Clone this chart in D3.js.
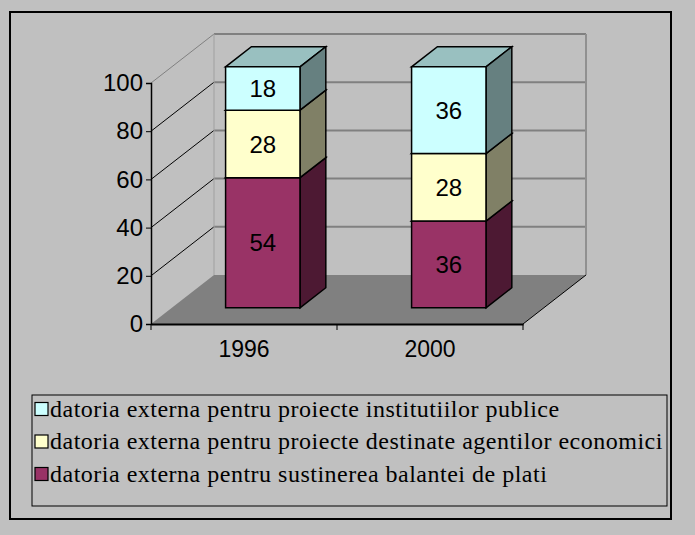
<!DOCTYPE html>
<html><head><meta charset="utf-8">
<style>
    body { margin: 0; background: #c0c0c0; }
    svg { display: block; }
</style>
<script src="https://d3js.org/d3.v7.min.js"></script>
</head>
<body>
<svg id="chart"></svg>
<script>
    // data, bottom segment first
    let years = ["1996", "2000"]
    let seriesNames = [
        "datoria externa pentru sustinerea balantei de plati",
        "datoria externa pentru proiecte destinate agentilor economici",
        "datoria externa pentru proiecte institutiilor publice"
    ]
    let balanta = [54, 36]
    let agenti = [28, 28]
    let institutii = [18, 36]
    let yTicks = [0, 20, 40, 60, 80, 100]

    let fronts = ["#993366", "#ffffcc", "#ccffff"]
    let tops = ["#732650", "#c0c099", "#99c0c0"]
    let sides = ["#4d1933", "#808066", "#668080"]

    let width = 695, height = 535
    let svg = d3.select('#chart').attr('width', width).attr('height', height)

    // chart area border
    svg.append('rect')
        .attr('x', 10).attr('y', 12).attr('width', 661).attr('height', 507)
        .attr('fill', '#c0c0c0').attr('stroke', '#000').attr('stroke-width', 2)

    // oblique 3d: depth z in [0,1] shifts right and up
    let DX = 63, DY = 49
    let xScale = d3.scaleBand().domain(years).range([151, 523])
    let yScale = d3.scaleLinear().domain([0, 100]).range([324, 83])
    let x0 = 151, x1 = 523
    function P(x, v, z) { return [x + z * DX, yScale(v) - z * DY] }
    function poly(pts) { return pts.map(p => p.join(',')).join(' ') }

    let walls = svg.append('g')
    // left wall, back wall, floor
    walls.append('polygon')
        .attr('points', poly([P(x0, 0, 0), P(x0, 0, 1), P(x0, 100, 1), P(x0, 100, 0)]))
        .attr('fill', '#c0c0c0')
    walls.append('polygon')
        .attr('points', poly([P(x0, 0, 1), P(x1, 0, 1), P(x1, 100, 1), P(x0, 100, 1)]))
        .attr('fill', '#c0c0c0')
    walls.append('polygon')
        .attr('points', poly([P(x0, 0, 0), P(x1, 0, 0), P(x1, 0, 1), P(x0, 0, 1)]))
        .attr('fill', '#808080')

    // gridlines
    yTicks.filter(v => v > 0).forEach(v => {
        let a = P(x0, v, 0), b = P(x0, v, 1), c = P(x1, v, 1)
        walls.append('line').attr('x1', a[0]).attr('y1', a[1]).attr('x2', b[0]).attr('y2', b[1])
            .attr('stroke', v == 100 ? '#808080' : '#000').attr('stroke-width', 1)
        walls.append('line').attr('x1', b[0]).attr('y1', b[1]).attr('x2', c[0]).attr('y2', c[1])
            .attr('stroke', '#808080').attr('stroke-width', 2)
    })
    // wall edges
    let edge = (p, q, col, w) => walls.append('line')
        .attr('x1', p[0]).attr('y1', p[1]).attr('x2', q[0]).attr('y2', q[1])
        .attr('stroke', col).attr('stroke-width', w)
    edge(P(x0, 0, 1), P(x0, 100, 1), '#a0a0a0', 1)
    edge(P(x1, 0, 1), P(x1, 100, 1), '#909090', 2)
    edge(P(x1, 0, 0), P(x1, 0, 1), '#000', 1)

    // value axis
    let axisY = d3.axisLeft(yScale).tickValues(yTicks).tickSize(5).tickPadding(3)
    let gy = svg.append('g').attr('transform', `translate(${x0},0)`).call(axisY)
    gy.select('.domain').attr('stroke', '#000').attr('stroke-width', 1.5)
    gy.selectAll('.tick line').attr('stroke', '#000')
    gy.selectAll('text').attr('font-family', 'Liberation Sans, Arial, sans-serif')
        .attr('font-size', 24).attr('fill', '#000')

    // category axis
    let axisX = d3.axisBottom(xScale).tickSize(0).tickPadding(17)
    let gx = svg.append('g').attr('transform', `translate(0,${yScale(0)})`).call(axisX)
    gx.select('.domain').attr('stroke', '#000').attr('stroke-width', 2)
    gx.selectAll('text').attr('font-family', 'Liberation Sans, Arial, sans-serif')
        .attr('font-size', 23).attr('fill', '#000')
    let bounds = [x0].concat(years.map(y => xScale(y) + xScale.bandwidth()))
    gx.selectAll('.bound').data(bounds).enter().append('line')
        .attr('x1', d => d).attr('x2', d => d).attr('y1', 0).attr('y2', 6)
        .attr('stroke', '#000')

    // stacked bars
    let table = years.map((y, i) => ({ year: y, s0: balanta[i], s1: agenti[i], s2: institutii[i] }))
    let stacked = d3.stack().keys(['s0', 's1', 's2'])(table)
    let barW = xScale.bandwidth() * 0.4
    let zA = 0.33, zB = 0.74
    let bars = svg.append('g')
    years.forEach((y, i) => {
        let bx = xScale(y) + (xScale.bandwidth() - barW) / 2 - 2
        stacked.forEach((layer, k) => {
            let lo = layer[i][0], hi = layer[i][1]
            let front = [P(bx, lo, zA), P(bx + barW, lo, zA), P(bx + barW, hi, zA), P(bx, hi, zA)]
            let side = [P(bx + barW, lo, zA), P(bx + barW, lo, zB), P(bx + barW, hi, zB), P(bx + barW, hi, zA)]
            let top = [P(bx, hi, zA), P(bx + barW, hi, zA), P(bx + barW, hi, zB), P(bx, hi, zB)]
            bars.append('polygon').attr('points', poly(top))
                .attr('fill', tops[k]).attr('stroke', '#000').attr('stroke-width', 1.5)
            bars.append('polygon').attr('points', poly(side))
                .attr('fill', sides[k]).attr('stroke', '#000').attr('stroke-width', 1.5)
            bars.append('polygon').attr('points', poly(front))
                .attr('fill', fronts[k]).attr('stroke', '#000').attr('stroke-width', 1.5)
            let c = P(bx + barW / 2, (lo + hi) / 2, zA)
            bars.append('text').attr('x', c[0]).attr('y', c[1]).attr('dy', '0.36em')
                .attr('text-anchor', 'middle')
                .attr('font-family', 'Liberation Sans, Arial, sans-serif').attr('font-size', 24)
                .text(hi - lo)
        })
    })

    // legend, top entry first
    let legend = svg.append('g')
    legend.append('rect').attr('x', 32).attr('y', 395).attr('width', 635).attr('height', 111)
        .attr('fill', 'none').attr('stroke', '#000').attr('stroke-width', 1)
    let order = [2, 1, 0]
    order.forEach((k, j) => {
        let cy = 409 + j * 32.5
        legend.append('rect').attr('x', 35).attr('y', cy - 6.5).attr('width', 13).attr('height', 13)
            .attr('fill', fronts[k]).attr('stroke', '#000').attr('stroke-width', 1.2)
        legend.append('text').attr('x', 50).attr('y', cy).attr('dy', '0.33em')
            .attr('font-family', 'Liberation Serif, Times New Roman, serif').attr('font-size', 24)
            .attr('letter-spacing', 0.5)
            .text(seriesNames[k])
    })
</script>
</body></html>
